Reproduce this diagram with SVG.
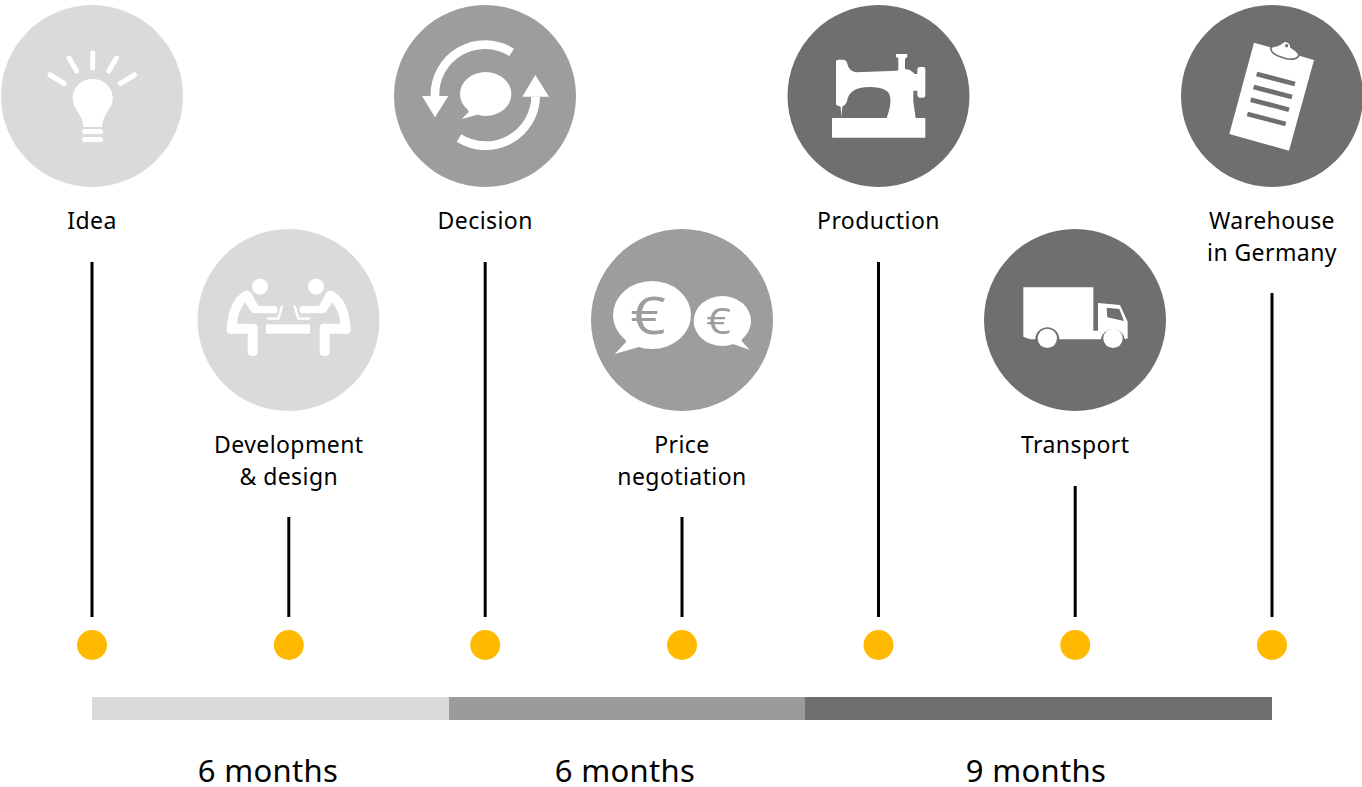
<svg xmlns="http://www.w3.org/2000/svg" width="1362" height="787" viewBox="0 0 1362 787">
<style>
.lbl{font-family:"Noto Sans","Open Sans",sans-serif;font-size:23px;letter-spacing:.42px;fill:#000;text-anchor:middle}
.dur{font-family:"Noto Sans","Open Sans",sans-serif;font-size:31px;letter-spacing:.3px;fill:#000;text-anchor:middle}
.light{fill:#dadada}.mid{fill:#9c9e9d}.dark{fill:#6f6f6e}
.w{fill:#fff}
.ws{fill:none;stroke:#fff;stroke-linecap:round;stroke-linejoin:round}
.dot{fill:#ffb900}
.conn{stroke:#000;stroke-width:3;fill:none}
.eur{font-family:"Open Sans",sans-serif;text-anchor:middle;fill:#9c9e9d}
</style>
<defs>
<path id="person" class="w" d="M150 197Q165 195 172 210L190 243L238 243Q248 243 248 254Q248 265 238 265L180 265Q172 265 167 258L150 232Q128 262 126 296L175 296Q188 296 188 310L188 380Q188 393 173 393Q158 393 158 380L158 326L105 326Q95 326 95 315Q95 290 105 255Q118 215 150 197Z"/>
</defs>
<rect width="1362" height="787" fill="#fff"/>
<g id="connectors">
<line class="conn" x1="92" y1="262" x2="92" y2="617"/>
<line class="conn" x1="288.800" y1="517" x2="288.800" y2="617"/>
<line class="conn" x1="485.200" y1="262" x2="485.200" y2="617"/>
<line class="conn" x1="682" y1="517" x2="682" y2="617"/>
<line class="conn" x1="878.500" y1="262" x2="878.500" y2="617"/>
<line class="conn" x1="1075.200" y1="486" x2="1075.200" y2="617"/>
<line class="conn" x1="1272" y1="293" x2="1272" y2="617"/>
</g>
<g id="node-idea">
<circle class="light" cx="92" cy="96" r="91"/>
<g class="ws" stroke-width="5">
<line x1="92.700" y1="53" x2="92.700" y2="68"/><line x1="69" y1="58" x2="76.600" y2="71"/><line x1="116.400" y1="58" x2="108.800" y2="71"/><line x1="50" y1="75" x2="64" y2="83.500"/><line x1="134.500" y1="75" x2="120.500" y2="83.500"/>
<line x1="84.500" y1="131.500" x2="100.500" y2="131.500"/><line x1="84.500" y1="139.500" x2="100.500" y2="139.500"/>
</g>
<path class="w" d="M83.500 127C83 119 79 114 76 109C73 104 72.500 100 72.700 97C73.500 86 82 79 92.700 79C103 79 112 86 112.700 97C113 101 112 105 109 109C106 114 102.500 119 102 127Z"/>
<text class="lbl" x="92" y="229">Idea</text>
<circle class="dot" cx="92" cy="645" r="15"/>
</g>
<g id="node-development">
<circle class="light" cx="288.500" cy="320" r="91"/>
<g transform="translate(195 225) scale(.3333)">
<circle class="w" cx="195" cy="185" r="24"/><circle class="w" cx="363" cy="185" r="24"/>
<use href="#person"/>
<use href="#person" transform="translate(562 0) scale(-1 1)"/>
<path class="ws" stroke-width="7" stroke-linecap="butt" d="M261 244L250 281L218 281"/>
<path class="ws" stroke-width="7" stroke-linecap="butt" d="M299 244L310 281L342 281"/>
<rect class="w" x="213" y="298" width="132" height="28"/>
</g>
<text class="lbl" x="288.800" y="453">Development</text>
<text class="lbl" x="288.800" y="485">&amp; design</text>
<circle class="dot" cx="288.800" cy="645" r="15"/>
</g>
<g id="node-decision">
<circle class="mid" cx="485" cy="96" r="91"/>
<g transform="translate(390 0) scale(.3333)">
<path d="M365 157A150 150 0 0 0 135 290" fill="none" stroke="#fff" stroke-width="26"/>
<polygon class="w" points="96,288 175,288 135,352"/>
<path d="M207 414A150 150 0 0 0 437 290" fill="none" stroke="#fff" stroke-width="26"/>
<polygon class="w" points="397,290 477,290 436,225"/>
<ellipse class="w" cx="287" cy="282" rx="77" ry="66"/>
<path class="w" d="M232 328L236 336L215 357L262 344Z"/>
</g>
<text class="lbl" x="485.200" y="229">Decision</text>
<circle class="dot" cx="485.200" cy="645" r="15"/>
</g>
<g id="node-price">
<circle class="mid" cx="682" cy="320" r="91"/>
<g transform="translate(588 225) scale(.3333)">
<ellipse class="w" cx="192" cy="270" rx="117" ry="102"/>
<path class="w" d="M108 335L115 350L80 387L155 365Z"/>
<ellipse class="w" cx="403" cy="288" rx="86" ry="75"/>
<path class="w" d="M465 335L460 347L485 374L428 355Z"/>
</g>
<text class="eur" transform="translate(648 334) scale(1.2 1)" font-size="52">€</text>
<text class="eur" transform="translate(718.500 334) scale(1.2 1)" font-size="36">€</text>
<text class="lbl" x="682" y="453">Price</text>
<text class="lbl" x="682" y="485">negotiation</text>
<circle class="dot" cx="682" cy="645" r="15"/>
</g>
<g id="node-production">
<circle class="dark" cx="878.500" cy="96" r="91"/>
<g transform="translate(785 0) scale(.3333)">
<path class="w" d="M153 186Q153 179 160 179L176 179Q185 180 187 192Q192 214 215 217L335 212L340 210L340 175L333 171L333 162L367 162L367 171L360 176L360 207L375 210L390 222L397 222L397 207Q398 201 405 201L415 201Q421 201 421 207L421 286Q421 293 415 293L405 293Q398 293 397 286L397 272L385 272L385 305L392 354L305 354Q318 320 316 295Q314 270 285 264Q250 258 222 265Q195 273 188 295Q186 312 175 318L172 320L169 352L167 320L155 316Q153 315 153 310Z"/>
<rect class="w" x="141" y="354" width="280" height="59" rx="3"/>
</g>
<text class="lbl" x="878.500" y="229">Production</text>
<circle class="dot" cx="878.500" cy="645" r="15"/>
</g>
<g id="node-transport">
<circle class="dark" cx="1075" cy="320" r="91"/>
<g transform="translate(980 225) scale(.3333)">
<path class="w" d="M130 187H340V317H354V234L420 240L443 290V340L435 343A37 37 0 0 0 362 343H238A36 36 0 0 0 166 343H150L130 335Z"/>
<circle class="w" cx="202" cy="340" r="29"/><circle class="w" cx="399" cy="340" r="29"/>
<polygon class="dark" points="380,248 418,252 432,288 382,277"/>
</g>
<text class="lbl" x="1075.200" y="453">Transport</text>
<circle class="dot" cx="1075.200" cy="645" r="15"/>
</g>
<g id="node-warehouse">
<circle class="dark" cx="1272" cy="96" r="91"/>
<g transform="translate(1175 0) scale(.3333)">
<polygon class="w" points="237,128 417,180 342,452 163,402"/>
<path class="w" stroke="#6f6f6e" stroke-width="5" d="M289 140C303 143 316 135 322 128C332 120 348 127 348 142C356 147 371 156 372 166C365 181 340 180 320 172C300 165 283 156 289 140Z"/>
<path class="w" d="M292 140C305 143 318 135 324 130C333 123 345 130 345 143C354 148 366 157 368 164L300 146Z"/>
<circle class="dark" cx="335" cy="137" r="5"/>
<g stroke="#6f6f6e" stroke-width="14">
<line x1="245" y1="222" x2="360" y2="252"/><line x1="236" y1="261" x2="351" y2="291"/><line x1="227" y1="299" x2="342" y2="329"/><line x1="217" y1="342" x2="332" y2="372"/>
</g>
</g>
<text class="lbl" x="1272" y="229">Warehouse</text>
<text class="lbl" x="1272" y="261">in Germany</text>
<circle class="dot" cx="1272" cy="645" r="15"/>
</g>
<g id="timeline">
<rect x="92" y="697" width="357" height="23" fill="#d9d9d9"/>
<rect x="449" y="697" width="356" height="23" fill="#9a9b9a"/>
<rect x="805" y="697" width="467" height="23" fill="#6f6f6e"/>
<text class="dur" x="268" y="782">6 months</text>
<text class="dur" x="625" y="782">6 months</text>
<text class="dur" x="1036" y="782">9 months</text>
</g>
</svg>
